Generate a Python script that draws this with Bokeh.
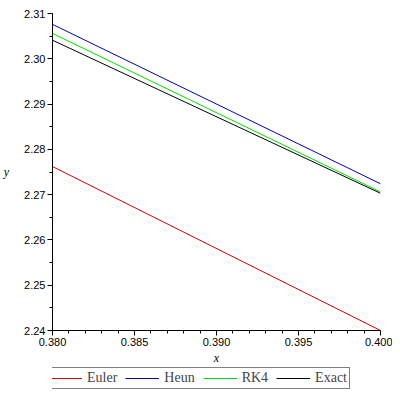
from bokeh.plotting import figure
from bokeh.layouts import column
from bokeh.models import Range1d, FixedTicker, PrintfTickFormatter, Legend, LegendItem
from bokeh.embed import file_html
from bokeh.resources import INLINE

x_vals = [0.380, 0.400]
euler = [2.2762, 2.2400]
heun = [2.3076, 2.2724]
rk4 = [2.3056, 2.2706]
exact = [2.3041, 2.2703]

names = ["Euler", "Heun", "RK4", "Exact"]
colors = ["#e00000", "#0000b0", "#00dd00", "black"]

x_ticks = [0.380, 0.385, 0.390, 0.395, 0.400]
x_minor = [round(0.380 + 0.001 * i, 3) for i in range(21)]
y_ticks = [2.24, 2.25, 2.26, 2.27, 2.28, 2.29, 2.30, 2.31]
y_minor = [round(2.24 + 0.005 * i, 3) for i in range(15)]

SERIF = "Liberation Serif"
SANS = "Liberation Sans"

p = figure(x_range=Range1d(0.380, 0.400), y_range=Range1d(2.24, 2.31),
           output_backend="svg", toolbar_location=None,
           min_border_left=44, min_border_right=12, min_border_top=13, min_border_bottom=0)
p.frame_width = 328
p.frame_height = 317
p.outline_line_color = None
p.xgrid.visible = False
p.ygrid.visible = False

for ax, ticks, minor, fmt, lab in [(p.xaxis[0], x_ticks, x_minor, "%.3f", "x"),
                                   (p.yaxis[0], y_ticks, y_minor, "%.2f", "y")]:
    ax.ticker = FixedTicker(ticks=ticks, minor_ticks=minor)
    ax.formatter = PrintfTickFormatter(format=fmt)
    ax.axis_line_color = "black"
    ax.major_tick_line_color = "black"
    ax.minor_tick_line_color = "black"
    ax.major_tick_in = 0
    ax.minor_tick_in = 0
    ax.major_tick_out = 5
    ax.minor_tick_out = 3
    ax.major_label_text_font = SANS
    ax.major_label_text_font_size = "11px"
    ax.major_label_text_color = "black"
    ax.major_label_standoff = 2
    ax.axis_label = lab
    ax.axis_label_text_font = SERIF
    ax.axis_label_text_font_style = "italic"
    ax.axis_label_text_font_size = "12px"
    ax.axis_label_text_color = "black"

p.xaxis[0].axis_label_standoff = 2
p.yaxis[0].axis_label_standoff = 12
p.yaxis[0].axis_label_orientation = "horizontal"

series = [euler, heun, rk4, exact]
for ys, c in zip(series, colors):
    p.line(x_vals, ys, line_color=c, line_width=1)

# legend strip below the plot (its lines lie outside this strip's view)
lg = figure(width=384, height=24, x_range=Range1d(0.380, 0.400), y_range=Range1d(0, 1),
            output_backend="svg", toolbar_location=None,
            x_axis_type=None, y_axis_type=None,
            min_border_left=0, min_border_right=0, min_border_top=0, min_border_bottom=0)
lg.outline_line_color = None
lg.xgrid.visible = False
lg.ygrid.visible = False
items = []
for n, ys, c in zip(names, series, colors):
    r = lg.line(x_vals, ys, line_color=c, line_width=1)
    items.append(LegendItem(label=n, renderers=[r]))
legend = Legend(items=items, orientation="horizontal", location=(-7, 2),
                border_line_color="black", border_line_width=1,
                background_fill_color="white", background_fill_alpha=1,
                label_text_font=SERIF, label_text_font_size="14px",
                glyph_width=34, glyph_height=14, label_standoff=5, spacing=8,
                padding=2, margin=0, label_height=14)
lg.add_layout(legend)

layout = column(p, lg, spacing=0)
open("out.html", "w").write(file_html(layout, INLINE))
